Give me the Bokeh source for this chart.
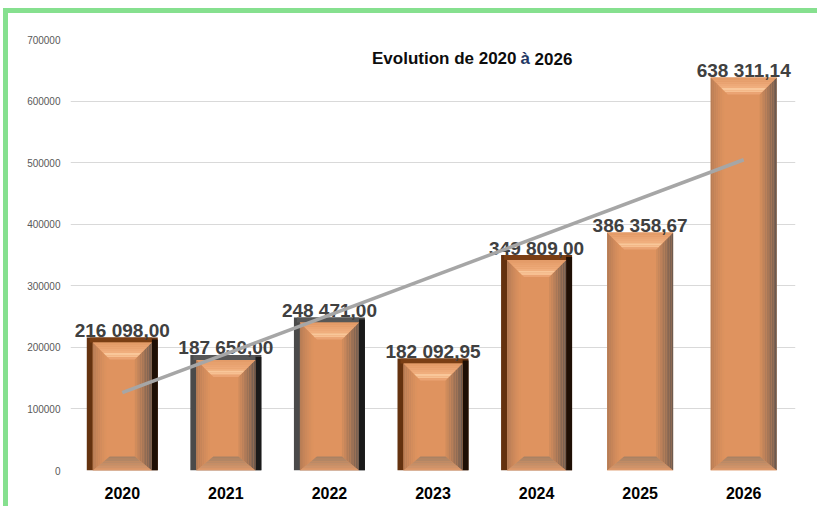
import numpy as np
from bokeh.plotting import figure
from bokeh.models import Range1d, FixedTicker, BasicTickFormatter
from bokeh.core.properties import value
from bokeh.embed import file_html
from bokeh.resources import INLINE

# ---------------- data ----------------
years = ["2020", "2021", "2022", "2023", "2024", "2025", "2026"]
values = [216098.00, 187650.00, 248471.00, 182092.95, 349809.00, 386358.67, 638311.14]
value_labels = ["216 098,00", "187 650,00", "248 471,00", "182 092,95",
                "349 809,00", "386 358,67", "638 311,14"]
frame_kind = ["brown", "grey", "grey", "brown", "brown", "none", "none"]
y_ticks = [0, 100000, 200000, 300000, 400000, 500000, 600000, 700000]
title_parts = ["Evolution de 2020", "à", "2026"]

# ---------------- figure ----------------
GREEN = "#86E08F"
W, H = 814, 498
ML, MR, MT, MB = 62, 27, 26, 41
FW, FH = W - ML - MR, H - MT - MB
YMAX = 700000
p = figure(width=W, height=H, output_backend="svg", toolbar_location=None,
           x_range=Range1d(-0.5, len(years) - 0.5), y_range=Range1d(0, YMAX),
           min_border_left=ML, min_border_right=MR, min_border_top=MT, min_border_bottom=MB,
           styles={"border-top": f"5px solid {GREEN}", "border-left": f"5px solid {GREEN}",
                   "margin-top": "8px", "margin-left": "3px"})
p.outline_line_color = None
p.background_fill_color = "white"
p.border_fill_color = "white"

XPX = len(years) / FW      # data units per pixel (x)
YPX = YMAX / FH            # data units per pixel (y)

p.xgrid.visible = False
p.ygrid.ticker = FixedTicker(ticks=y_ticks)
p.ygrid.grid_line_color = "#D9D9D9"
p.ygrid.grid_line_width = 1

p.yaxis.ticker = FixedTicker(ticks=y_ticks)
p.yaxis.formatter = BasicTickFormatter(use_scientific=False)
p.yaxis.axis_line_color = None
p.yaxis.major_tick_line_color = None
p.yaxis.minor_tick_line_color = None
p.yaxis.major_tick_out = 0
p.yaxis.major_label_standoff = 10
p.yaxis.major_label_text_font = "Liberation Sans"
p.yaxis.major_label_text_font_size = "10px"
p.yaxis.major_label_text_color = "#595959"

xs_idx = list(range(len(years)))
p.xaxis.ticker = FixedTicker(ticks=xs_idx)
p.xaxis.major_label_overrides = {i: y for i, y in enumerate(years)}
p.xaxis.axis_line_color = None
p.xaxis.major_tick_line_color = None
p.xaxis.minor_tick_line_color = None
p.xaxis.major_tick_out = 0
p.xaxis.major_label_standoff = 16
p.xaxis.major_label_text_font = "Liberation Sans"
p.xaxis.major_label_text_font_style = "bold"
p.xaxis.major_label_text_font_size = "16px"
p.xaxis.major_label_text_color = "#000000"

# ---------------- bar styling ----------------
def hex2rgb(h):
    h = h.lstrip("#")
    return np.array([int(h[k:k + 2], 16) for k in (0, 2, 4)], dtype=float)

def ramp(c0, c1, n, gamma=1.0):
    a, b = hex2rgb(c0), hex2rgb(c1)
    out = []
    for j in range(n):
        t = ((j + 0.5) / n) ** gamma
        r, g, bl = (a + (b - a) * t).round().astype(int)
        out.append("#%02X%02X%02X" % (r, g, bl))
    return out

FRAME = {"brown": ("#64320F", "#7A3E14", "#1E0F05"),
         "grey": ("#4A4A4A", "#575757", "#1A1A1A")}
FACE = "#DF935F"
LEFT_BANDS = ramp("#B27A55", FACE, 7, 0.8)
RIGHT_BANDS = ramp("#66574F", "#D58E5D", 10, 0.9)
BOTTOM_BANDS = ramp("#E39D6E", "#A58063", 6, 0.8)
TOP_BANDS = ramp("#E39A66", "#F1B080", 5) + ["#F9C79A", "#F7C092", "#EBA474"]

pxs, pys, pcol = [], [], []

def add(xx, yy, c):
    pxs.append(list(xx)); pys.append(list(yy)); pcol.append(c)

for i, (v, k) in enumerate(zip(values, frame_kind)):
    c = xs_idx[i]
    hw = (35.5 if k != "none" else 33.0) * XPX
    L, R, T, B = c - hw, c + hw, v, 0.0
    if k != "none":
        fl, ft, fr = FRAME[k]
        add([L, R, R, L], [B, B, T, T], fl)
        add([R - 6 * XPX, R, R, R - 6 * XPX], [B, B, T - 2 * YPX, T - 2 * YPX], fr)
        add([L + 3 * XPX, R - 6 * XPX, R - 6 * XPX, L + 3 * XPX], [T - 5 * YPX, T - 5 * YPX, T, T], ft)
        L2, R2, T2 = L + 6 * XPX, R - 6 * XPX, T - 5 * YPX
    else:
        L2, R2, T2 = L, R, T
    b, bt, bb = 17 * XPX, 17 * YPX, 14 * YPX
    # face
    add([L2, R2, R2, L2], [B, B, T2, T2], FACE)
    # left bevel
    n = len(LEFT_BANDS)
    for j, col in enumerate(LEFT_BANDS):
        a0, a1 = j / n * 0.8, (j + 1) / n * 0.8
        add([L2 + a0 * b, L2 + a1 * b, L2 + a1 * b, L2 + a0 * b],
            [T2 - a0 * bt, T2 - a1 * bt, B + a1 * bb, B + a0 * bb], col)
    # right bevel
    n = len(RIGHT_BANDS)
    for j, col in enumerate(RIGHT_BANDS):
        a0, a1 = j / n, (j + 1) / n
        add([R2 - a0 * b, R2 - a1 * b, R2 - a1 * b, R2 - a0 * b],
            [T2 - a0 * bt, T2 - a1 * bt, B + a1 * bb, B + a0 * bb], col)
    # bottom bevel
    n = len(BOTTOM_BANDS)
    for j, col in enumerate(BOTTOM_BANDS):
        a0, a1 = j / n, (j + 1) / n
        add([L2 + a0 * b, R2 - a0 * b, R2 - a1 * b, L2 + a1 * b],
            [B + a0 * bb, B + a0 * bb, B + a1 * bb, B + a1 * bb], col)
    # top bevel
    n = len(TOP_BANDS)
    for j, col in enumerate(TOP_BANDS):
        a0, a1 = j / n, (j + 1) / n
        add([L2 + a0 * b, R2 - a0 * b, R2 - a1 * b, L2 + a1 * b],
            [T2 - a0 * bt, T2 - a0 * bt, T2 - a1 * bt, T2 - a1 * bt], col)

p.patches(xs=pxs, ys=pys, fill_color=pcol, line_color=None)

# value labels
p.text(x=xs_idx, y=values, text=value_labels, text_align="center",
       text_baseline="alphabetic", y_offset=-7,
       text_font=value("Liberation Sans"), text_font_style="bold",
       text_font_size="19px", text_color="#404040")

# linear trend line
coef = np.polyfit(xs_idx, values, 1)
tx = [xs_idx[0], xs_idx[-1]]
p.line(tx, np.polyval(coef, tx), line_color="#A6A6A6", line_width=3.5)

# title (in three coloured pieces)
TX, TY = 3.845, YMAX - 19 * YPX
common = dict(text_baseline="alphabetic", text_font=value("Liberation Sans"),
              text_font_style="bold", text_font_size="17px")
p.text(x=[TX], y=[TY], text=[title_parts[0]], text_align="right", x_offset=-4,
       text_color="#0D0D0D", **common)
p.text(x=[TX], y=[TY], text=[title_parts[1]], text_align="left",
       text_color="#1F3864", **common)
p.text(x=[TX], y=[TY], text=[title_parts[2]], text_align="left", x_offset=14,
       text_color="#0D0D0D", **common)

open("out.html", "w").write(file_html(p, INLINE))
